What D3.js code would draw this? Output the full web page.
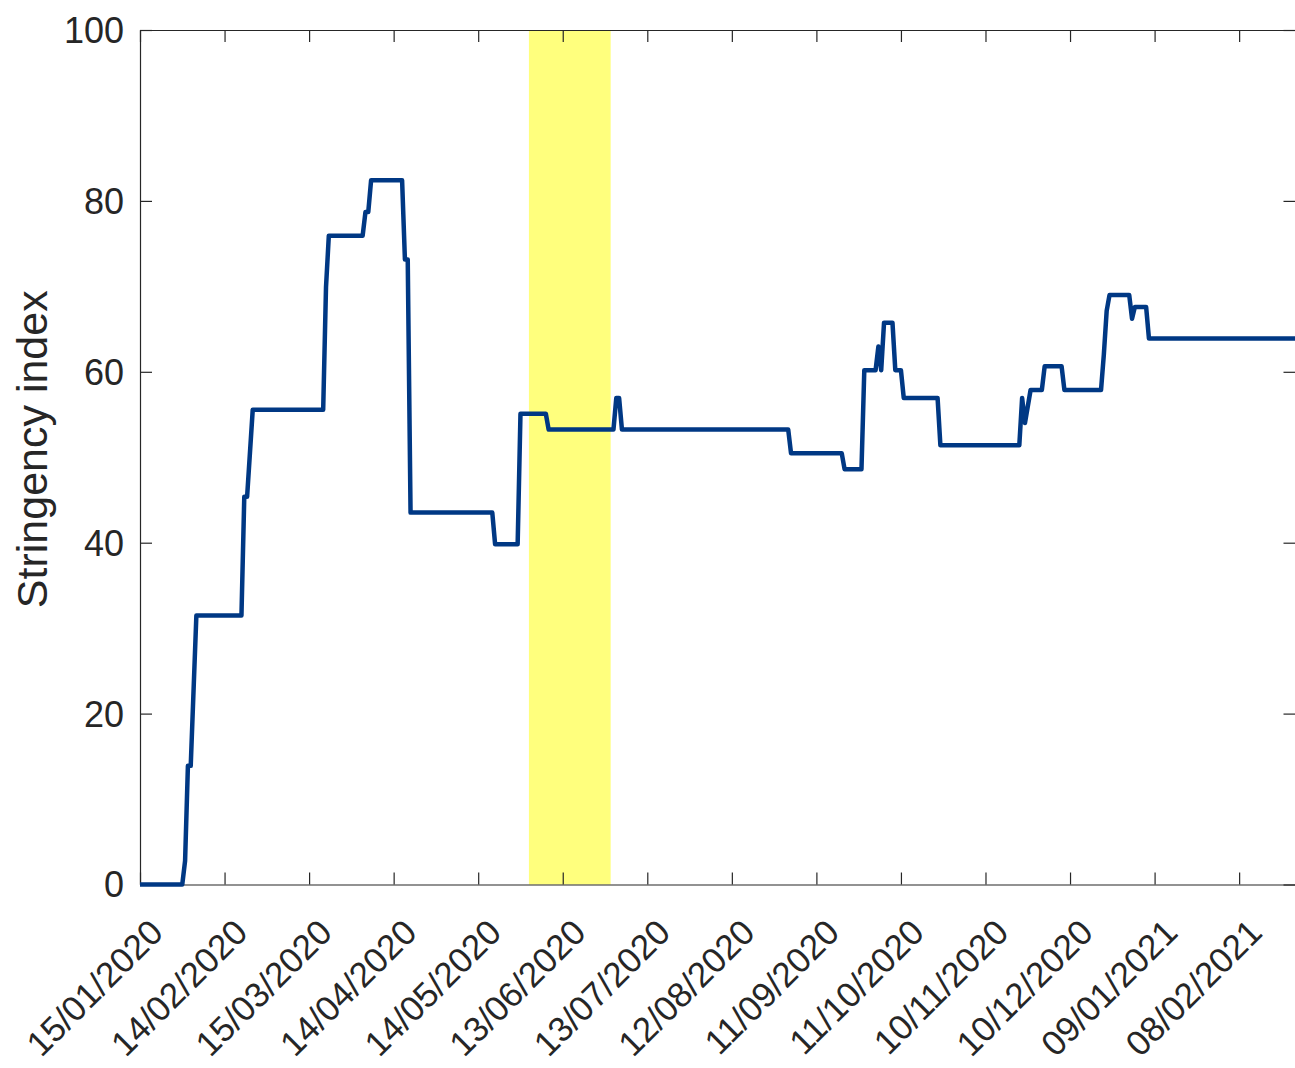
<!DOCTYPE html>
<html>
<head>
<meta charset="utf-8">
<script src="https://cdn.jsdelivr.net/npm/d3@7"></script>
<style>
  html, body { margin: 0; padding: 0; background: #ffffff; }
  svg { display: block; }
  text { font-family: "Liberation Sans", Arial, Helvetica, sans-serif; fill: #262626; }
</style>
</head>
<body>
<svg id="chart" width="1295" height="1068"></svg>
<script>
// Daily stringency index, listed at the days where the value changes
const dates = [
  "2020-01-15", "2020-01-30", "2020-01-31", "2020-02-01", "2020-02-02", "2020-02-04",
  "2020-02-20", "2020-02-21", "2020-02-22", "2020-02-24",
  "2020-03-20", "2020-03-21", "2020-03-22",
  "2020-04-03", "2020-04-04", "2020-04-05", "2020-04-06",
  "2020-04-17", "2020-04-18", "2020-04-19", "2020-04-20",
  "2020-05-19", "2020-05-20", "2020-05-28", "2020-05-29",
  "2020-06-07", "2020-06-08",
  "2020-07-01", "2020-07-02", "2020-07-03", "2020-07-04",
  "2020-09-01", "2020-09-02", "2020-09-20", "2020-09-21",
  "2020-09-27", "2020-09-28",
  "2020-10-02", "2020-10-03", "2020-10-04", "2020-10-05",
  "2020-10-08", "2020-10-09", "2020-10-11", "2020-10-12",
  "2020-10-24", "2020-10-25",
  "2020-11-22", "2020-11-23", "2020-11-24", "2020-11-26",
  "2020-11-30", "2020-12-01", "2020-12-07", "2020-12-08",
  "2020-12-21", "2020-12-22", "2020-12-23", "2020-12-24",
  "2020-12-31", "2021-01-01", "2021-01-02",
  "2021-01-06", "2021-01-07", "2021-02-28"
];
const stringency = [
  0, 0, 2.78, 13.89, 13.89, 31.48,
  31.48, 45.37, 45.37, 55.56,
  55.56, 69.91, 75.93,
  75.93, 78.70, 78.70, 82.41,
  82.41, 73.15, 73.15, 43.52,
  43.52, 39.81, 39.81, 55.09,
  55.09, 53.24,
  53.24, 56.94, 56.94, 53.24,
  53.24, 50.46, 50.46, 48.61,
  48.61, 60.19,
  60.19, 62.96, 60.19, 65.74,
  65.74, 60.19, 60.19, 56.94,
  56.94, 51.39,
  51.39, 56.94, 54.00, 57.87,
  57.87, 60.65, 60.65, 57.87,
  57.87, 62.04, 67.13, 68.98,
  68.98, 66.20, 67.59,
  67.59, 63.89, 63.89
];

// Highlighted period
const bandStart = "2020-06-01";
const bandEnd = "2020-06-30";

// Axis ticks
const xTickDates = [
  "2020-01-15", "2020-02-14", "2020-03-15", "2020-04-14", "2020-05-14",
  "2020-06-13", "2020-07-13", "2020-08-12", "2020-09-11", "2020-10-11",
  "2020-11-10", "2020-12-10", "2021-01-09", "2021-02-08"
];
const xTickLabels = [
  "15/01/2020", "14/02/2020", "15/03/2020", "14/04/2020", "14/05/2020",
  "13/06/2020", "13/07/2020", "12/08/2020", "11/09/2020", "11/10/2020",
  "10/11/2020", "10/12/2020", "09/01/2021", "08/02/2021"
];
const yTicks = [0, 20, 40, 60, 80, 100];
const yLabel = "Stringency index";

const parse = d3.utcParse("%Y-%m-%d");
const series = dates.map((d, i) => ({ date: parse(d), value: stringency[i] }));

const svg = d3.select("#chart");
const plotLeft = 140, plotRight = 1295.5, plotTop = 30, plotBottom = 884.5;
const axisColor = "#262626";
const tickLen = 12;

const x = d3.scaleUtc()
  .domain([parse("2020-01-15"), parse("2021-02-28")])
  .range([plotLeft, plotRight]);
const y = d3.scaleLinear().domain([0, 100]).range([plotBottom, plotTop]);

// Highlight band
svg.append("rect")
  .attr("x", x(parse(bandStart)))
  .attr("y", y(100))
  .attr("width", x(parse(bandEnd)) - x(parse(bandStart)))
  .attr("height", y(0) - y(100))
  .attr("fill", "#ffff7d");

// Axes (box with inward ticks on all sides)
const styleAxis = g => {
  g.select(".domain").attr("stroke", axisColor).attr("stroke-width", 1.2);
  g.selectAll(".tick line").attr("stroke", axisColor).attr("stroke-width", 1.2);
};
const xt = xTickDates.map(parse);
svg.append("g")
  .attr("transform", `translate(0,${plotBottom})`)
  .call(d3.axisBottom(x).tickValues(xt).tickSize(-tickLen).tickSizeOuter(0).tickFormat(""))
  .call(styleAxis);
svg.append("g")
  .attr("transform", `translate(0,${plotTop})`)
  .call(d3.axisTop(x).tickValues(xt).tickSize(-tickLen).tickSizeOuter(0).tickFormat(""))
  .call(styleAxis);
svg.append("g")
  .attr("transform", `translate(${plotLeft},0)`)
  .call(d3.axisLeft(y).tickValues(yTicks).tickSize(-tickLen).tickSizeOuter(0).tickFormat(""))
  .call(styleAxis);
svg.append("g")
  .attr("transform", `translate(${plotRight},0)`)
  .call(d3.axisRight(y).tickValues(yTicks).tickSize(-tickLen).tickSizeOuter(0).tickFormat(""))
  .call(styleAxis);

// Y tick labels
svg.append("g").selectAll("text")
  .data(yTicks)
  .join("text")
  .attr("x", plotLeft - 16)
  .attr("y", d => y(d))
  .attr("dy", "0.36em")
  .attr("text-anchor", "end")
  .attr("font-size", 36)
  .text(d => d);

// X tick labels, rotated
svg.append("g").selectAll("text")
  .data(xt)
  .join("text")
  .attr("transform", d => `translate(${x(d) + 25},${plotBottom + 50}) rotate(-45)`)
  .attr("text-anchor", "end")
  .attr("font-size", 35)
  .text((d, i) => xTickLabels[i]);

// Y axis title
svg.append("text")
  .attr("transform", `translate(47,${(plotTop + plotBottom) / 2 - 8}) rotate(-90)`)
  .attr("text-anchor", "middle")
  .attr("font-size", 43)
  .text(yLabel);

// Stringency line
const line = d3.line().x(d => x(d.date)).y(d => y(d.value));
svg.append("path")
  .datum(series)
  .attr("d", line)
  .attr("fill", "none")
  .attr("stroke", "#003884")
  .attr("stroke-width", 4.5)
  .attr("stroke-linejoin", "round")
  .attr("stroke-linecap", "butt");
</script>
</body>
</html>
